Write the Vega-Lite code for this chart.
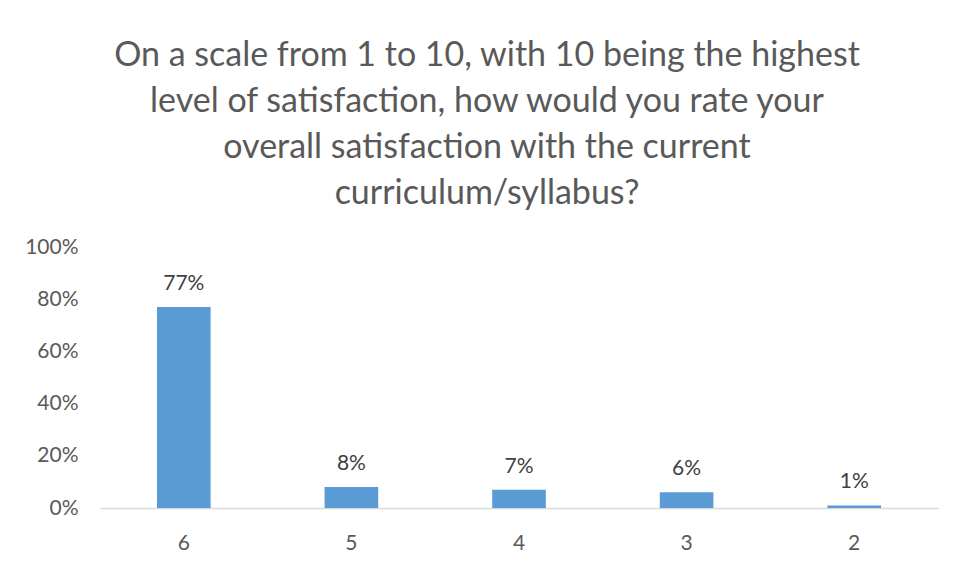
{
  "$schema": "https://vega.github.io/schema/vega-lite/v6.json",
  "autosize": "none",
  "width": 838,
  "height": 261,
  "padding": {"left": 100, "top": 247, "right": 18, "bottom": 55},
  "background": "white",
  "title": {
    "text": ["On a scale from 1 to 10, with 10 being the highest", "level of satisfaction, how would you rate your", "overall satisfaction with the current", "curriculum/syllabus?"],
    "anchor": "middle",
    "dx": -32,
    "font": "Lato",
    "fontSize": 34,
    "fontWeight": "normal",
    "color": "#595959",
    "lineHeight": 46,
    "offset": 25
  },
  "data": {
    "values": [
      {"rating": "6", "share": 0.77},
      {"rating": "5", "share": 0.08},
      {"rating": "4", "share": 0.07},
      {"rating": "3", "share": 0.06},
      {"rating": "2", "share": 0.01}
    ]
  },
  "encoding": {
    "x": {
      "field": "rating", "type": "ordinal", "sort": null,
      "scale": {"paddingInner": 0.68, "paddingOuter": 0.34},
      "axis": {"title": null, "labelAngle": 0, "ticks": false, "domainColor": "#d9d9d9", "domainWidth": 1.5, "labelPadding": 24, "labelFont": "Lato", "labelFontSize": 21, "labelColor": "#595959"}
    },
    "y": {
      "field": "share", "type": "quantitative",
      "scale": {"domain": [0, 1]},
      "axis": {"title": null, "format": ".0%", "values": [0, 0.2, 0.4, 0.6, 0.8, 1], "grid": false, "domain": false, "ticks": false, "labelPadding": 22, "labelFont": "Lato", "labelFontSize": 21, "labelColor": "#595959"}
    }
  },
  "layer": [
    {"mark": {"type": "bar", "color": "#5B9BD5"}},
    {
      "mark": {"type": "text", "baseline": "bottom", "dy": -13, "font": "Lato", "fontSize": 21, "color": "#404040"},
      "encoding": {"text": {"field": "share", "type": "quantitative", "format": ".0%"}}
    }
  ],
  "config": {"view": {"stroke": null}}
}
